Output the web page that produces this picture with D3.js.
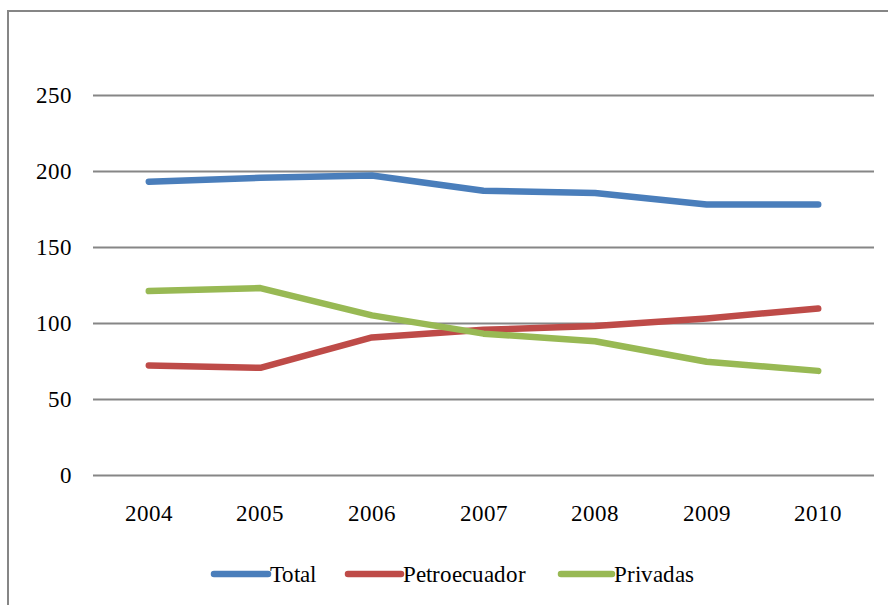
<!DOCTYPE html>
<html>
<head>
<meta charset="utf-8">
<script src="https://cdn.jsdelivr.net/npm/d3@7"></script>
<style>
  @font-face {
    font-family: "ChartSerif";
    src: local("Liberation Serif"), local("LiberationSerif"), local("LiberationSerif-Regular"),
         local("Tinos"), local("Tinos-Regular"), local("DejaVu Serif"), local("DejaVuSerif");
  }
  html, body { margin: 0; padding: 0; background: #fff; }
  svg { display: block; }
</style>
</head>
<body>
<svg id="chart" width="888" height="605"></svg>
<script>
// Production by year (years, then one array per series)
const years = ["2004", "2005", "2006", "2007", "2008", "2009", "2010"];
const total = [193, 195.5, 197, 187, 185.5, 178, 178];
const petroecuador = [72, 70.5, 90.5, 95.5, 98, 103, 109.5];
const privadas = [121, 123, 105, 93, 88, 74.5, 68.5];
const seriesNames = ["Total", "Petroecuador", "Privadas"];
const seriesColors = ["#4A7EBB", "#BE4B48", "#98B954"];
const yTicks = [0, 50, 100, 150, 200, 250];

const seriesValues = [total, petroecuador, privadas];
const FONT = "ChartSerif, 'Liberation Serif', Tinos, 'Times New Roman', Times, 'DejaVu Serif', serif";

const svg = d3.select("#chart");
const plot = { left: 93, right: 874, top: 95, bottom: 475 };

// Outer chart frame (runs past the right and bottom edges)
svg.append("rect")
  .attr("x", 8).attr("y", 11)
  .attr("width", 900).attr("height", 620)
  .attr("fill", "none")
  .attr("stroke", "#868686")
  .attr("stroke-width", 2);

const x = d3.scaleBand().domain(years).range([plot.left, plot.right]).padding(0);
const y = d3.scaleLinear().domain([0, 250]).range([plot.bottom, plot.top]);

// Horizontal gridlines and y tick labels
const yAxis = d3.axisLeft(y).tickValues(yTicks).tickSize(0).tickPadding(0);
const gY = svg.append("g").attr("transform", `translate(${plot.left},0)`).call(yAxis)
  .attr("font-family", FONT).attr("font-size", 23);
gY.select(".domain").remove();
gY.selectAll(".tick text")
  .attr("x", -21)
  .attr("dy", "0.34em")
  .attr("fill", "#000");
gY.selectAll(".tick").append("line")
  .attr("x1", 0).attr("x2", plot.right - plot.left)
  .attr("stroke", "#868686")
  .attr("stroke-width", 2.2);

// Category labels
const xAxis = d3.axisBottom(x).tickSize(0).tickPadding(0);
const gX = svg.append("g").attr("transform", `translate(0,${plot.bottom})`).call(xAxis)
  .attr("font-family", FONT).attr("font-size", 23);
gX.select(".domain").remove();
gX.selectAll(".tick text")
  .attr("y", 46)
  .attr("dy", 0)
  .attr("fill", "#000");

// Series lines
const line = d3.line()
  .x((d, i) => x(years[i]) + x.bandwidth() / 2)
  .y(d => y(d));

seriesValues.forEach((vals, k) => {
  svg.append("path")
    .datum(vals)
    .attr("d", line)
    .attr("fill", "none")
    .attr("stroke", seriesColors[k])
    .attr("stroke-width", 6.5)
    .attr("stroke-linecap", "round")
    .attr("stroke-linejoin", "round");
});

// Legend
const legendItems = [
  { x: 214, w: 54 },
  { x: 348, w: 53 },
  { x: 561, w: 51 }
];
const legendY = 574;
seriesNames.forEach((name, k) => {
  const g = svg.append("g").attr("transform", `translate(${legendItems[k].x},${legendY})`);
  g.append("line")
    .attr("x1", 0).attr("x2", legendItems[k].w)
    .attr("stroke", seriesColors[k])
    .attr("stroke-width", 6.5)
    .attr("stroke-linecap", "round");
  g.append("text")
    .attr("x", legendItems[k].w + 2)
    .attr("y", 8)
    .attr("font-family", FONT)
    .attr("font-size", 23)
    .attr("fill", "#000")
    .text(name);
});
</script>
</body>
</html>
